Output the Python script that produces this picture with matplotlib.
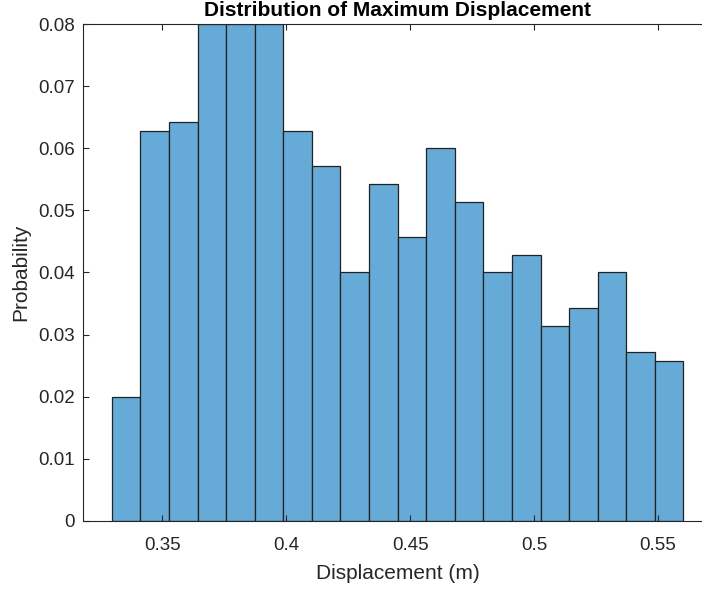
"""Histogram of maximum displacement, MATLAB-style."""

import numpy as np
import matplotlib.pyplot as plt

# Histogram data (probability = count / 700)
bin_start = 0.3296
bin_width = 0.01153
counts = [14, 44, 45, 56, 56, 56, 44, 40, 28, 38,
          32, 42, 36, 28, 30, 22, 24, 28, 19, 18]
n_total = 700

x_ticks = [0.35, 0.4, 0.45, 0.5, 0.55]
x_tick_labels = ['0.35', '0.4', '0.45', '0.5', '0.55']
y_ticks = [0, 0.01, 0.02, 0.03, 0.04, 0.05, 0.06, 0.07, 0.08]
y_tick_labels = ['0', '0.01', '0.02', '0.03', '0.04', '0.05', '0.06', '0.07', '0.08']


def main():
    plt.rcParams['font.family'] = ['Liberation Sans', 'DejaVu Sans']

    edges = bin_start + bin_width * np.arange(len(counts) + 1)
    probs = np.array(counts) / n_total

    fig = plt.figure(figsize=(7.02, 5.90), dpi=100)
    ax = fig.add_axes([0.1187, 0.1175, 0.8955, 0.8413])

    ax.bar(edges[:-1], probs, width=bin_width, align='edge',
           color='#66AAD7', edgecolor='#222222', linewidth=0.9)

    ax.set_xlim(edges[0] - bin_width, edges[-1] + bin_width)
    ax.set_ylim(0, 0.08)

    ax.set_xticks(x_ticks)
    ax.set_xticklabels(x_tick_labels)
    ax.set_yticks(y_ticks)
    ax.set_yticklabels(y_tick_labels)

    text_color = '#262626'
    ax.tick_params(direction='in', length=4, width=0.8, colors='#262626',
                   labelsize=13.5, top=True, right=True)
    ax.tick_params(axis='x', pad=12)
    ax.tick_params(axis='y', pad=6)
    for spine in ax.spines.values():
        spine.set_color('#262626')
        spine.set_linewidth(0.8)

    ax.set_xlabel('Displacement (m)', fontsize=15, color=text_color, labelpad=7)
    ax.set_ylabel('Probability', fontsize=15, color=text_color, labelpad=6)
    ax.set_title('Distribution of Maximum Displacement', fontsize=15,
                 fontweight='bold', color='black', pad=6)

    fig.savefig('out.png', dpi=100)
    plt.close(fig)


if __name__ == '__main__':
    main()
